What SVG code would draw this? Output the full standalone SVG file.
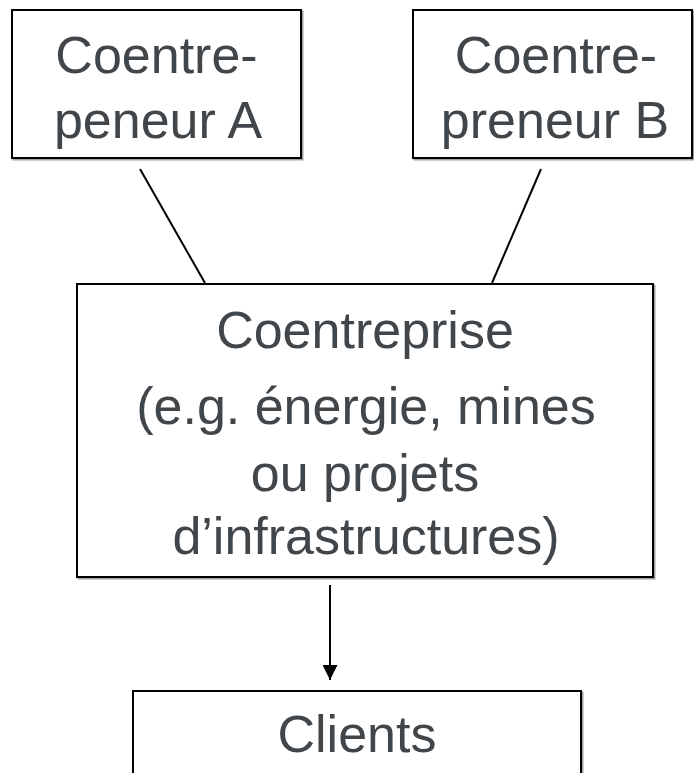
<svg xmlns="http://www.w3.org/2000/svg" width="694" height="773" viewBox="0 0 694 773">
<style>
.box{fill:#ffffff;stroke:#000000;stroke-width:2}
.shadow{fill:none;stroke:#a0a0a0;stroke-width:2}
.lbl{font-family:"Liberation Sans",Arial,sans-serif;font-size:52px;fill:#41464b;text-anchor:middle}
.conn{stroke:#000000;stroke-width:2;fill:none}
</style>
<defs>
<marker id="arr" viewBox="0 0 10 10" refX="10" refY="5" markerWidth="15" markerHeight="15" markerUnits="userSpaceOnUse" orient="auto">
<path d="M0,0 L10,5 L0,10 z" fill="#000000"/>
</marker>
</defs>
<rect width="694" height="773" fill="#ffffff"/>
<g id="node-a">
<rect class="shadow" x="13.5" y="11.5" width="289" height="148"/>
<rect class="box" x="12" y="10" width="289" height="148"/>
<text class="lbl" x="156.5" y="73">Coentre-</text>
<text class="lbl" x="158" y="138">peneur A</text>
</g>
<g id="node-b">
<rect class="shadow" x="414.5" y="11.5" width="279" height="148"/>
<rect class="box" x="413" y="10" width="279" height="148"/>
<text class="lbl" x="556" y="73">Coentre-</text>
<text class="lbl" x="555" y="138">preneur B</text>
</g>
<g id="node-jv">
<rect class="shadow" x="78.5" y="285.5" width="576" height="293"/>
<rect class="box" x="77" y="284" width="576" height="293"/>
<text class="lbl" x="365" y="348">Coentreprise</text>
<text class="lbl" x="366" y="424">(e.g. énergie, mines</text>
<text class="lbl" x="365" y="491">ou projets</text>
<text class="lbl" x="366" y="554">d’infrastructures)</text>
</g>
<g id="node-clients">
<rect class="shadow" x="134.5" y="692.5" width="448" height="120"/>
<rect class="box" x="133" y="691" width="448" height="120"/>
<text class="lbl" x="357" y="752">Clients</text>
</g>
<g id="connectors">
<line class="conn" x1="140" y1="169" x2="205" y2="283"/>
<line class="conn" x1="541" y1="169" x2="492" y2="283"/>
<line class="conn" x1="330" y1="585" x2="330" y2="680" marker-end="url(#arr)"/>
</g>
</svg>
